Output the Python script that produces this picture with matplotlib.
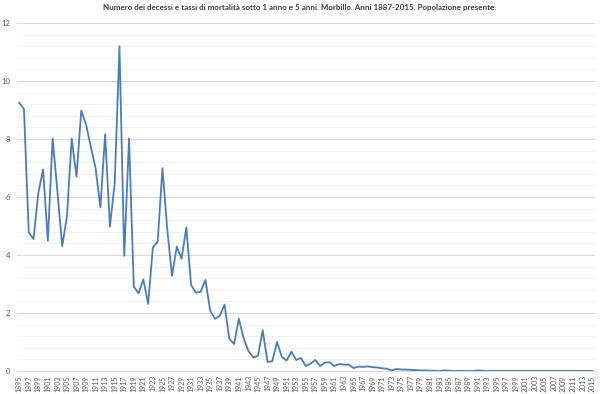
import numpy as np
import matplotlib
matplotlib.use("Agg")
import matplotlib.pyplot as plt
from matplotlib.ticker import MultipleLocator

plt.rcParams['font.family'] = ['Lato', 'DejaVu Sans']

years = list(range(1895, 2016))
# tasso di mortalita'
values = [
    9.25, 9.03, 4.78, 4.55, 6.13, 6.95, 4.49, 8.02, 6.2, 4.31,   # 1895-1904
    5.32, 8.02, 6.7, 8.98, 8.5, 7.73, 7.0, 5.64, 8.16, 4.98,     # 1905-1914
    6.47, 11.2, 3.97, 8.02, 2.91, 2.68, 3.16, 2.31, 4.26, 4.46,  # 1915-1924
    6.99, 4.9, 3.28, 4.29, 3.87, 4.95, 2.97, 2.70, 2.73, 3.14,   # 1925-1934
    2.08, 1.80, 1.90, 2.29, 1.11, 0.93, 1.80, 1.13, 0.69, 0.47,  # 1935-1944
    0.52, 1.41, 0.31, 0.34, 1.0, 0.49, 0.36, 0.67, 0.38, 0.45,   # 1945-1954
    0.17, 0.25, 0.38, 0.17, 0.29, 0.30, 0.17, 0.24, 0.22, 0.22,  # 1955-1964
    0.10, 0.15, 0.14, 0.16, 0.13, 0.12, 0.09, 0.08, 0.02, 0.07,  # 1965-1974
    0.05, 0.05, 0.04, 0.03, 0.02, 0.02, 0.01, 0.01, 0.0, 0.02,   # 1975-1984
    0.01, 0.0, 0.0, 0.0, 0.0, 0.0, 0.02, 0.01, 0.0, 0.0,         # 1985-1994
    0.0, 0.0, 0.0, 0.0, 0.0, 0.0, 0.0, 0.0, 0.0, 0.0,            # 1995-2004
    0.0, 0.0, 0.0, 0.0, 0.0, 0.0, 0.0, 0.0, 0.0, 0.0,            # 2005-2014
    0.0,                                                          # 2015
]
tick_years = years[::2]
title = "Numero dei decessi e tassi di mortalità sotto 1 anno e 5 anni. Morbillo. Anni 1887-2015. Popolazione presente."

fig = plt.figure(figsize=(6, 3.94), dpi=100)
ax = fig.add_axes([0.028, 0.0584, 0.963, 0.8832])

ax.plot(years, values, color='#4a7ebb', linewidth=1.3, zorder=3)

ax.set_xlim(1894.5, 2015.5)
ax.set_ylim(0, 12)
ax.yaxis.set_major_locator(MultipleLocator(2))
ax.yaxis.set_minor_locator(MultipleLocator(0.4))
ax.grid(which='major', axis='y', color='#d9d9d9', linewidth=0.8)
ax.grid(which='minor', axis='y', color='#f0f0f0', linewidth=0.6)
ax.set_axisbelow(True)

ax.set_xticks(tick_years)
ax.set_xticklabels([str(y) for y in tick_years], rotation=90, fontsize=5, color='#595959')
ax.tick_params(axis='y', labelsize=5.5, colors='#595959', length=0, pad=5)
ax.tick_params(axis='y', which='minor', length=0)
ax.tick_params(axis='x', length=0, pad=3)

for s in ['top', 'right', 'left']:
    ax.spines[s].set_visible(False)
ax.spines['bottom'].set_color('#d9d9d9')
ax.spines['bottom'].set_linewidth(0.8)

fig.suptitle(title, fontsize=5.8, fontweight='bold', color='#404040', y=0.99)

fig.savefig("out.png", dpi=100)
